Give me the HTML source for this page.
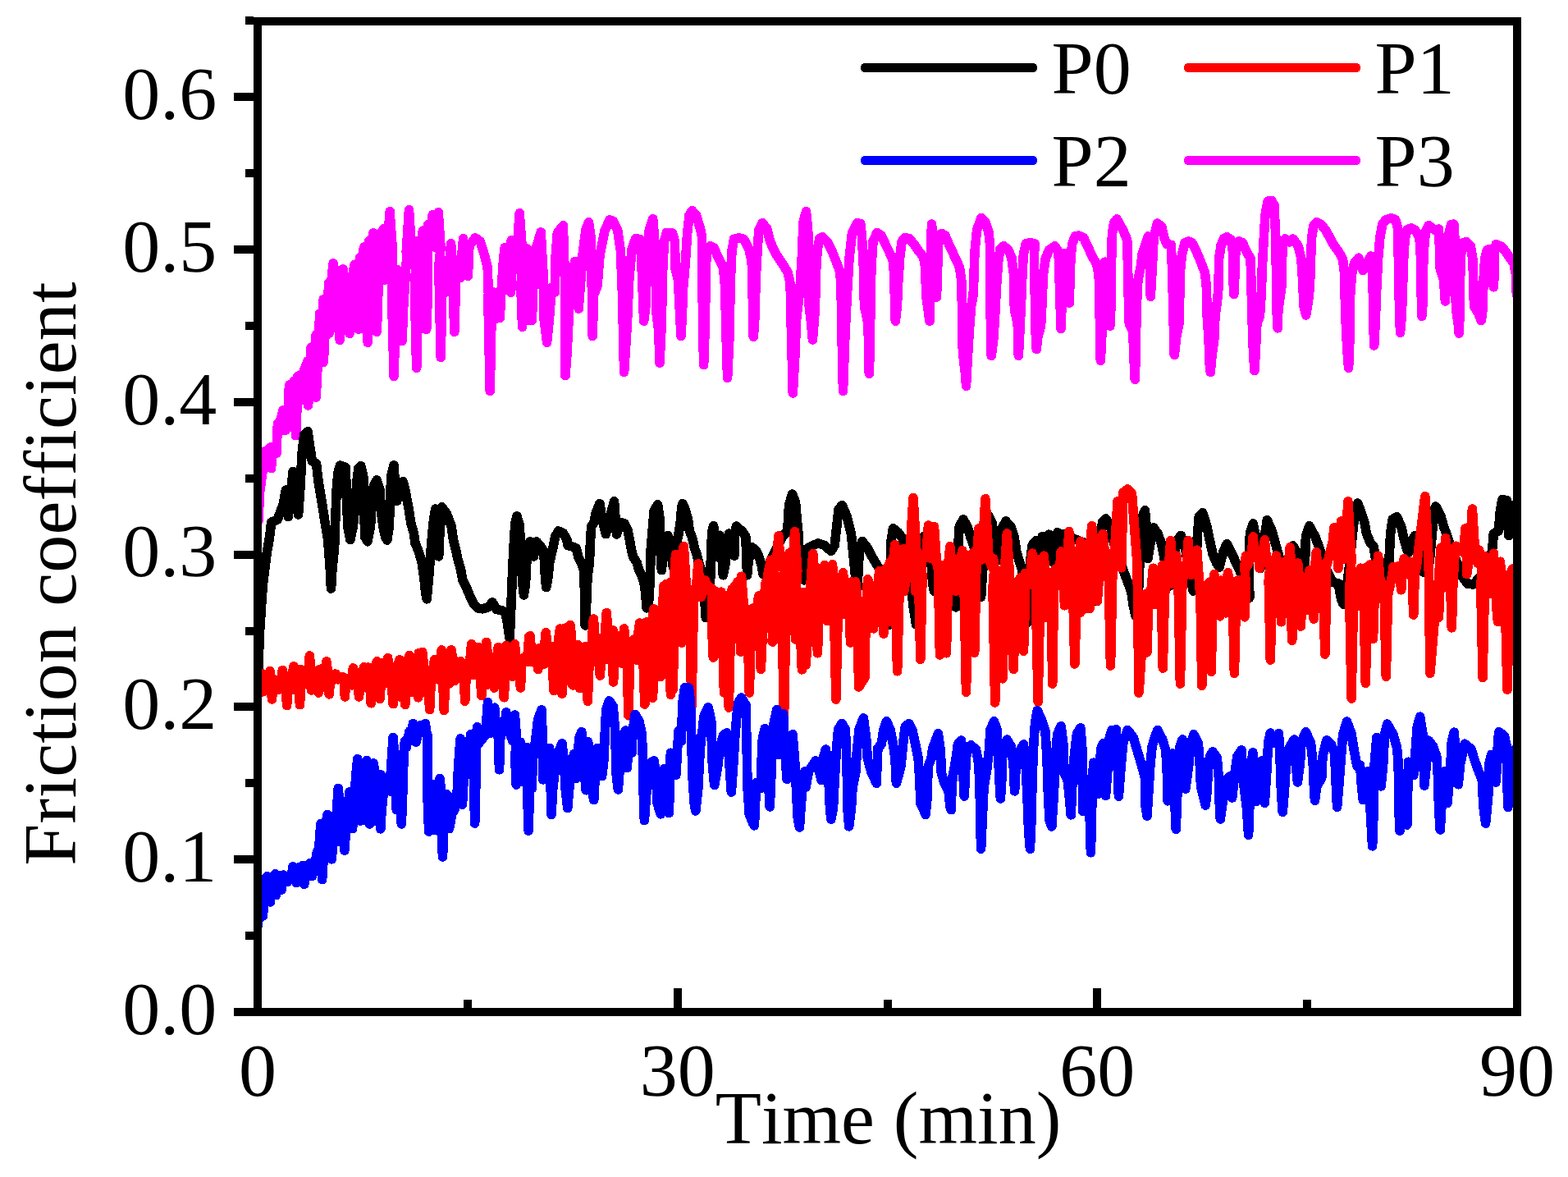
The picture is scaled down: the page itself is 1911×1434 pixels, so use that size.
<!DOCTYPE html>
<html><head><meta charset="utf-8"><title>Friction coefficient</title>
<style>
html,body{margin:0;padding:0;background:#fff;}
body{width:1911px;height:1434px;overflow:hidden;}
svg{display:block;}
text{font-family:"Liberation Serif",serif;font-size:92px;fill:#000;font-variant-ligatures:none;font-kerning:none;font-feature-settings:"liga" 0,"clig" 0;}
</style></head><body>
<svg width="1911" height="1434" viewBox="0 0 1911 1434">
<rect width="1911" height="1434" fill="#fff"/>
<defs><clipPath id="c"><rect x="319" y="31" width="1525" height="1197"/></clipPath></defs>
<g clip-path="url(#c)" shape-rendering="crispEdges">
<polyline points="315,635 316.5,600 323.5,549.8 324.5,549.8 325.5,549.8 330,544.8 329.3,552.2 330.5,570.6 331.7,552.2 337,552.2 338.4,516.5 339.5,514.8 340.6,516.5 345,500 346,524.2 347,524.2 348,524.2 352,513.2 351.6,478.5 353,469 354.5,478.5 358.4,464 359.1,498.4 360.5,530.7 361.9,498.4 362.6,459 363.6,458 364.7,459 367,487.2 368,486.4 370,453 375,439.9 374.3,484 375.5,494 376.6,484 379,423.9 380,422.9 381.1,423.9 380.4,482.4 385.1,407.9 383.8,463.2 385.1,484 386.3,463.2 389.7,381.9 390.1,442.4 392.9,426.8 394.1,441.4 395.2,426.8 394.1,364.9 395.1,364.9 396.1,364.9 399.1,407.3 400.5,344.9 400,403 401.1,406.3 402.1,403 404.3,337.9 406.1,320.9 407.8,337.9 406.1,392.3 412.5,329.9 412.9,396.9 414.1,414.3 415.3,396.9 416.6,338.6 418.1,327.9 419.6,338.6 420.1,400.3 424.1,347.9 425,398.3 426.1,406.3 427.2,398.3 431.7,396.3 430.8,329 432.1,322.3 433.4,329 436,397.3 437.1,401.3 438.1,397.3 438.5,313.9 442.5,398.3 443,303.8 444.1,300.8 445.2,303.8 446.9,399.3 448.1,417.3 449.3,399.3 449.7,293.8 453.7,400.3 453.8,289.8 455.1,283.8 456.4,289.8 459.1,286.8 457.8,378.2 459.1,404.3 460.4,378.2 462.1,284.8 463.1,284.8 464.1,284.8 467.5,278.8 468.1,341.3 472.2,301.2 475.1,257.8 478.1,301.2 478.3,389.1 480.1,458.4 482,389.1 484.5,328.9 486.7,415.3 488.6,375.2 490.1,415.3 491.6,375.2 496.1,307.6 495.2,307.2 498.5,255.8 501.8,307.2 507.1,293.8 505.7,364.8 507.7,448.4 509.7,364.8 514.5,400.3 515.1,281.5 516.1,280.8 517.2,281.5 518.3,363.6 519.7,401.3 521.2,363.6 521.7,273.8 525.1,286 527.2,261.8 529.2,286 529.2,297.3 531.2,301.8 534.2,258.8 537.1,301.8 534.8,324.6 537.2,435.3 539.5,324.6 542.2,319.9 546.2,355.3 547.2,326.2 549.6,296.8 551.9,326.2 552.1,346.7 553.8,404.3 555.5,346.7 556.2,331.9 561.2,338.3 562.5,314.6 564.6,290.8 566.6,314.6 568.9,316.9 570.2,336.3 571.4,316.9 571.8,299.8 579.2,289.8 585.2,294 590.2,310.1 594.2,326.1 595.8,370.1 594.8,360.6 597.2,476.4 599.6,360.6 601.2,355.9 604.2,388.3 607.9,362.4 609.2,387.3 610.5,362.4 613.6,315.8 615.2,301.8 616.8,315.8 615.2,331.3 621.3,327.7 622.6,356.3 624,327.7 623.2,292.8 629.8,324.3 630.5,298.7 633.2,259.8 636,298.7 635.1,355.5 636.6,398.3 638.1,355.5 640.2,302.8 641.1,304.8 642.2,302.8 643.3,304.8 644.2,390.3 646.9,361.2 648.2,390.3 649.6,361.2 650.2,312.9 659.2,282.8 661.8,330.1 663.2,390.1 666.6,417.3 669.3,390.1 672.3,350.1 676.3,356.1 677.3,310.1 679.3,284 686.3,274.8 688.4,338.7 689.3,457.4" fill="none" stroke="#f0f" stroke-width="11.6" stroke-linejoin="round" stroke-linecap="round"/>
<polyline points="689,457.7 691.1,429.4 695.5,341.5 700.8,318.3 705.2,376.1 710.5,306.3 714,280 717.5,270.8 720.1,288.7 721.5,359.1 722.2,409.5 723.6,359.1 728,348.5 731,311.6 736.8,281.7 743,267.8 747.4,269.4 752.7,280.8 756.5,306.3 758.5,359.1 760.6,453.5 764.4,394.2 766.7,341.5 770.2,302.8 774.6,291 779.9,291.4 781.7,315.1 784.7,391.1 786.9,373.1 788.7,320.4 791.3,280 795.7,266.8 798.9,306.3 799.8,380.2 802.8,403 804,442.1 806.3,394.2 807.5,332.7 809.5,294 812.4,283.6 819.5,284 822.5,294 823,327.4 826.5,341.5 828.3,376.7 830,409.5 831.3,385.5 832.7,350.3 835.3,320.4 837.6,285.2 840,262.4 843.6,256.7 848.5,262.4 853.4,278.2 855.5,288.7 856.4,376.7 857.6,444.7 859.4,394.2 860.3,323.9 862.2,302.8 865.7,299.8 869.9,301.9 875.7,314.2 881.5,326.5 883.6,348.5 884.9,403 886.6,460.5 888.9,411.8 890.3,341.5 891.9,306.3 894.5,291.4 900.4,289.8 906.5,291.4 912.7,302.8 916.2,318.6 917.4,367.9 918.3,410.4 920,385.5 921.1,341.5 923.2,302.8 925,280 929,271.7 934.6,278.2 938.5,294 944.8,308.1 953.1,320.4 960.1,331.8 963.1,345 964.2,394.2 966.3,479 968.6,438.2 970.7,389 975.1,350.3 977.7,306.3 978.9,271.2 982.5,257.6 984.7,280 985.6,367.9 988.3,390.7 990.4,413.9 993.4,376.7 994.4,332.7 996.2,304.6 998.8,290.5 1002.3,288.7 1008.5,294.9 1014.1,306.3 1019.4,319.5 1024,331.8 1025.2,359.1 1026.1,411.8 1027.5,476.4 1029.8,411.8 1032.4,359.1 1035,315.1 1038.5,283.5 1044.7,271.7 1048.7,272.6 1050.5,288.7 1052.3,323.9 1053.5,373.1 1057.9,394.2 1059.1,438.2 1059.3,455.3 1060.5,411.8 1061.1,350.3 1062.3,320.4 1064,294 1068.8,283.6 1074.1,287 1079,297.5 1084.3,308.1 1088.7,318.6 1089.9,341.5 1090.8,376.7 1091.3,391.1 1093.4,373.1 1094.8,341.5 1096.9,311.6 1099.2,294 1102.7,289.6 1108,290.5 1113.3,296.7 1119.4,305.5 1125.6,313.4 1127.9,327.4 1128.6,359.1 1131.7,381.9 1133,391.1 1134,341.5 1134.9,288.7 1135.6,273.1 1137.9,306.3 1139.1,350.3 1141.4,362.1 1142.3,341.5 1143.2,306.3 1144.4,287 1147.6,284.5 1152,287 1157.2,299.3 1163,311.6 1169.5,325.7 1171.8,341.5 1172.5,376.7 1173.4,429.4 1176.6,455.8 1177.5,470.2 1179.2,438.2 1181.3,403 1183.6,373.1 1186.2,359.1 1187.1,332.7 1188,306.3 1190.6,280 1195.9,265.5 1201.2,271.2 1204.7,281.7 1206.5,297.5 1206.8,359.1 1207.7,411.8 1208.2,433.3 1210.9,411.8 1212.6,385.5 1214.4,350.3 1216.5,320.4 1218.8,303.7 1223.2,299.8 1228.4,303.7 1232.8,313.4 1235.5,334.5 1236.4,376.7 1240.2,394.2 1241.3,433.3 1242.9,403 1244.6,367.9 1246,332.7 1247.4,309.8 1250.4,296.7 1254.8,295.8 1261,296.7 1260.4,315.1 1261.5,367.9 1262.4,411.8 1263.3,425.4 1264.5,411.8 1268.5,397.8 1269.8,373.1 1271.5,334.5 1274.2,315.1 1278.5,304.6 1285.6,299.8 1290,306.3 1291.2,341.5 1292.3,376.7 1293.1,400.4 1294.4,359.1 1296.1,323.9 1297.4,308.6 1300.5,341.5 1303.2,369.1 1304,341.5 1304.9,315.1 1306.7,297.5 1310.2,287.9 1314.6,287 1320.7,289.6 1326,301.1 1331.3,312.5 1336.6,322.2 1339.2,334.5 1340.1,376.7 1341,420.6 1341.3,439.4 1342.7,411.8 1343.6,367.9 1345.4,327.4 1346.6,319.2 1350.6,341.5 1351.9,376.7 1352.9,397.2 1354.2,367.9 1354.7,315.1 1355.4,285.2 1357.7,271.2 1361.2,266.9 1369.3,281.7 1373.7,292.3 1374.5,323.9 1375.4,366.1 1376.3,394.2 1380.7,403 1382.5,447 1383.3,462.3 1384.2,429.4 1385.1,376.7 1386.9,341.5 1390.4,323.9 1392.1,309.8 1399.2,288 1401.3,323.9 1402.3,361.2 1404.4,323.9 1406.2,288.7 1410.6,272 1415.9,276.4 1418.5,288.7 1422,297.5 1427.3,298.4 1428.7,330.9 1429.9,381.9 1431.3,432.4 1433.5,411.8 1437,394.2 1437.8,359.1 1438.7,327.4 1440.5,309.8 1444,295.8 1448.4,294 1452.8,295.8 1458.1,306.3 1463.3,318.6 1468.6,332.7 1470.4,350.3 1471.3,387.2 1473,411.8 1474.4,447 1475.3,453.5 1476.5,438.2 1480,411.8 1480.9,385.5 1483.6,366.1 1485,350.3 1485.7,315.1 1488,299.3 1491.5,290.5 1495.5,288.9 1500.3,292.3 1502.5,306.3 1502.9,338 1503.8,358.6 1504.7,341.5 1505.2,315.1 1507.3,295.8 1509.9,294 1514.3,295.8 1518.7,305.5 1524,315.1 1524.9,341.5 1525.8,381.9 1527.5,429.4 1528.9,451.7 1530.2,429.4 1531.9,394.2 1535.4,385.5 1537.2,359.1 1538.4,323.9 1540.4,288.7 1541.9,262.4 1545.1,245.3 1549.5,244.4 1553,250.1 1553.9,271.2 1554.8,288.7 1555.6,341.5 1556.5,394.2 1557.1,399.9 1557.9,376.7 1561.8,350.3 1562.3,320.4 1563.6,297.5 1566.2,291 1571.5,294.9 1575.9,291 1582,299.3 1585.9,315.1 1587.6,341.5 1589.1,373.1 1591.7,384 1594.3,367.9 1596.4,350.3 1597.5,315.1 1598.7,288.7 1601,274.7 1604.9,270.8 1610.2,273.8 1615.4,280 1620.7,289.6 1626,299.3 1631.3,306.3 1636.5,316 1638.6,332.7 1639.7,381.9 1641.5,420.6 1643.6,448.2 1645,411.8 1645.7,359.1 1647.4,334.5 1650.6,320.4 1655.9,314.2 1661.1,329.5 1670.8,312.1 1671.7,315.1 1673.1,341.5 1673.8,390.7 1674.7,421 1676.1,394.2 1677.8,350.3 1679.6,315.1 1681.9,288.7 1684.9,272.9 1689.3,267.6 1695.4,265.9 1700.7,267.6 1703.7,278.2 1704.2,306.3 1705.1,359.1 1706.5,405.1 1708.3,385.5 1709.5,350.3 1710.7,315.1 1712.1,292.3 1714.8,280 1720.1,277.8 1724.5,280 1728.8,287 1731.1,297.5 1731.8,341.5 1732.9,385.3 1734.1,367.9 1734.6,323.9 1735.9,297.5 1737.6,281.7 1741.2,274.7 1748.2,280 1753.5,279.1 1754.3,297.5 1755.2,327.4 1759.6,341.5 1761.4,367 1762.8,341.5 1764,306.3 1765.8,285.2 1768.4,273.8 1771.9,273.1 1772.8,288.7 1773.3,341.5 1774.6,376.7 1777.2,394.2 1778.1,406 1779,385.5 1779.5,341.5 1780.7,309.8 1783.4,295.8 1787.2,294.5 1792.1,299.3 1794.8,315.1 1795.7,341.5 1796.5,373.1 1801.8,381.9 1805.3,390.6 1807.1,376.7 1808,341.5 1809.7,315.1 1812.4,304.6 1815,303.7 1818.5,309.8 1819.4,332.7 1820.3,349.8 1821.2,332.7 1821.7,306.3 1823.3,297.7 1829.1,300.2 1834.3,305.5 1839.6,313.4 1844.9,320.4 1847.5,334.5 1848.4,359.1" fill="none" stroke="#f0f" stroke-width="11.6" stroke-linejoin="round" stroke-linecap="round"/>
<polyline points="314.2,830 316.5,770 318.8,735 320.5,711 324.9,675.8 328.5,654.7 330.7,636.3 338.1,633.1 345.2,614.3 348.3,597.2 351.3,629.6 357.1,574.4 363.6,626.9 366.3,587.9 368,552.7 370.7,529.9 375.1,525.7 377.7,544 380.3,561.5 385.6,565.1 388.2,587.9 391.8,609 396.2,637.1 399.7,658.2 402.3,693.4 403.5,717.1 404.9,693.4 407.6,667 408.8,631.9 410.2,596.7 412,575.6 414.6,567 421.1,569.4 421.6,579.1 422.5,614.3 424.3,644.2 426.9,657.7 430.4,640.7 433.1,614.3 434.8,587.9 436.9,570.3 439.8,567.7 442.7,579.1 443.6,623.1 445,654.7 448,659.8 451.5,640.7 453.3,614.3 455.1,593.2 459.1,584.9 463,596.7 464.4,623.1 467.4,644.2 470,654.7 471.8,658.1 474.4,640.7 475.3,609 477,579.1 480,567 481.4,587.9 483.7,610.2 485.8,598.5 491.1,586.7 493.7,596.7 498.1,619.6 500.8,637.1 504.3,649.5 506,661.8 510.4,672.3 514,684.6 516.6,702.2 518.4,719.8 520.1,729.8 522.7,702.2 525.4,667 528,637.1 530.7,620.1 533.3,658.2 534.7,677.9 535.9,649.5 538.6,617.8 544.7,626.6 550,640.7 552.6,658.2 555.3,668.8 557.9,681.1 561.4,693.4 564.1,707.5 569.3,718 572.9,726.8 577.3,735.6 582.5,740.9 587.8,741.8 594.8,740 600.1,733.8 605.4,742.6 610.7,743.5 615.9,746.2 618.6,760.2 621.2,778.5 623.3,728.6 624.7,693.4 626.5,658.2 627.9,637.1 630,628.9 633.5,640.7 634.4,675.8 637,711 638.4,724.9 640.5,711 642.3,675.8 646,660 650.4,677.9 653.9,660 659.2,666.2 662.7,671.4 664.5,703.1 665.7,715.7 668,703.1 669.7,685.5 674.1,666.2 676.8,653.8 680.3,647 686.4,649.5 690.8,657.4 692.1,664.4 697,665.8 702.3,667.9 704.9,678.5 708.4,685.5 711.4,694.3 712.5,720.7 713.2,762 714.6,738.2 716,703.1 718.4,685.5 719.5,659.1 720.7,641.5 724.2,636.3 726,625.7 730.9,613.6 733.9,632.7 738.3,650.7 742.7,632.7 748.5,610.9 750.1,632.7 751.5,651 755.9,636.3 761.2,638 764.7,645.1 767,655.6 769.1,667.9 771.7,678.5 776.1,685.5 778.7,694.3 782.3,701.3 785.8,713.6 787.2,729.5 788.1,740.9 791.1,729.5 792.3,703.1 793.3,667.9 795.5,641.5 797.2,622.2 801.6,614.8 804.2,632.7 805.1,667.9 805.6,689 806.4,694.6 807.8,678.5 808.6,659.1 813.9,652.6 817.4,667.9 820.1,690.2 822.7,667.9 827.1,650.3 829.7,632.7 830.6,618.7 832,613.6 835,620.4 838.5,632.7 840.3,646.8 843.8,655.6 846.4,667.9 849.1,674.9 851.7,685.5 854.4,694.3 857,706.6 858.7,729.5 860.2,752.7 864,738.2 865.8,703.1 866.7,667.9 867.9,646.8 869.6,640.8 871.9,659.1 872.8,677.9 874.6,659.1 877.2,652.3 879.8,676.7 881.3,700.8 884.2,685.5 886,659.1 888.6,650 892.2,659.1 894.8,677.1 895.7,650.3 897.4,641.2 904.5,647.3 908.9,653.8 909.7,676.7 910.6,700.8 912.4,682 916.8,667 922,671.4 925.6,680.2 928.2,689 930,699.4 934.4,692.5 944.9,671.4 953.7,653.8 959.8,646.8 961.6,615.2 965.6,602 969.5,611.6 971.3,632.7 973,650.3 974.8,685.5 976.5,703.1 980.1,706.9 985.5,667 996.9,661.9 1004.9,664.4 1012.8,671.4 1017.2,664.4 1019.8,641.5 1022.1,620.4 1026.3,615.7 1032.1,629.2 1037.4,650.3 1040,676.7 1042.7,703.1 1044.4,723.7 1046.2,694.3 1047.4,667.9 1050.9,659.6 1057.6,667.9 1062.9,678.5 1068.2,687.3 1073.4,696 1078.7,729.5 1082.6,761.8 1084.5,720.7 1085.4,685.5 1086.1,659.1 1088.4,643.8 1094.5,648.6 1099.8,655.6 1103.3,667.9 1106.8,685.5 1110.4,711.9 1113,738.2 1116.5,760.6 1119.1,720.7 1121.8,676.7 1126.2,653.5 1131.5,659.1 1135,685.5 1136.7,711.9 1138.5,720.1 1143.8,703.1 1150.8,698.3 1157.8,713.6 1164.9,739.8 1166.6,703.1 1167.5,667.9 1169.3,641.5 1174,632.9 1178.9,641.5 1183.3,655.6 1187.7,667.9 1191.2,694.3 1195.6,727.2 1198.3,685.5 1200.9,650.3 1204.4,628 1208.8,636.3 1211.5,650.3 1213.2,667.9 1214.4,683.2 1216.7,664.4 1219.4,646.8 1225.9,635 1231.7,641.5 1236.1,653.8 1238.7,671.4 1242.2,683.7 1245.7,694.3 1249.3,720.7 1251.9,758.8 1253.6,720.7 1255.4,685.5 1258,664.4 1262.4,658.8 1266.5,672.7 1270.4,653.5 1274.2,669.1 1278.3,651.2 1281.8,684.1 1288.8,648.7 1292.3,679.7 1296.7,650.3 1307.3,655.6 1316.1,659.6 1321.5,660.9 1328.5,685.5 1334.7,720.7 1337,732.4 1339.1,703.1 1340.9,659.1 1343.5,636.3 1347.5,631.9 1353.2,639.8 1355.8,653.8 1362,678.5 1368.1,692.5 1373.4,706.6 1378.7,720.7 1381.3,738.2 1383.9,750 1387.5,720.7 1389.7,667.9 1391,632.7 1395.4,621.8 1398,650.3 1398.9,680.6 1402.4,659.1 1405.9,642.9 1411.2,650.3 1415.6,662.6 1418.6,678.5 1422.6,703.1 1425.6,714 1430.5,685.5 1434,659.1 1439.3,652.3 1444.6,667.9 1449,694.3 1454.3,720.1 1457.8,685.5 1459.5,650.3 1461.3,629.2 1465.7,624.8 1471,641.5 1474.5,659.1 1478,674.9 1482.4,685.5 1485.9,691.1 1491.2,671.4 1495.2,662.8 1501.7,674.9 1507,687.3 1511.4,696 1518.4,717.1 1522.8,728 1522.3,685.5 1523.4,650.3 1527.2,638 1531.6,659.1 1536,692.4 1540.4,659.1 1544.3,633.6 1550.1,646.8 1554.5,662.6 1558.9,678.5 1563.3,694.3 1565.9,700.8 1569.4,685.5 1575.6,664.9 1581.7,674.9 1584.4,694.3 1588.8,711.3 1590.5,685.5 1591.4,653.8 1595.8,640.8 1602.8,653.8 1608.1,667.9 1612.5,680.2 1616.9,694.3 1623.9,709.2 1631,711 1634.5,729.5 1637.1,736 1640.6,720.7 1645,685.5 1648.5,650.3 1651.2,624 1654.7,613.1 1657.6,620.4 1662.9,636.3 1665.5,650.3 1669.9,660.9 1674.3,666.2 1676.1,678.5 1682.3,683.7 1686.6,694.3 1688.9,705.2 1692.8,685.5 1694.6,650.3 1697.2,632.7 1702.5,629.8 1707.7,641.5 1711.3,657.4 1714.8,669.7 1716.5,673.5 1720.9,659.1 1724.5,652.6 1729.7,667.9 1735,697.3 1742,685.5 1745.5,650.3 1747,624 1749.9,617.1 1756.1,629.2 1759.6,641.5 1764,653.8 1770.2,671.4 1777.2,689 1782.5,703.1 1788.6,711.3 1795.7,711.9 1803.6,703.1 1812.4,689 1818.5,671.4 1820.3,650.3 1826.4,646.8 1828.2,624 1830.8,608.7 1836.1,609.5 1838.7,652.4 1842.3,632.7 1845.8,615.2" fill="none" stroke="#000" stroke-width="11.6" stroke-linejoin="round" stroke-linecap="round"/>
<polyline points="314,833 319.1,832.2 320.2,842.8 321.3,832.2 319.2,828.9 320.5,821 321.9,828.9 323.2,832.2 327.5,828.9 329,817.4 330.5,828.9 330.3,836.1 331.5,851.9 332.6,836.1 335.5,828.9 339.9,840.1 342.9,825.9 344.3,816.6 345.7,825.9 348.3,840.1 349.6,859.5 350.8,840.1 351.3,823.6 357.5,840.1 356.3,823 357.8,811.8 359.3,823 364.1,836.4 365.4,858.6 366.7,836.4 364.6,822.3 365.9,815.7 367.2,822.3 370.7,821.8 372.4,833.1 375.2,824.3 377.3,799 379.5,824.3 378.4,834.5 379.5,841 380.5,834.5 384.7,827.1 387.1,836.3 388.2,844 389.3,836.3 387.9,820.3 389.1,815.7 390.3,820.3 392.6,814.8 394.4,837.5 396.4,817 397.9,806 399.4,817 399.9,833.8 401.1,845.8 402.2,833.8 407.4,821.3 408.5,821 409.5,821.3 412,827.8 416.2,824.9 417.3,824.5 418.3,824.9 419.2,831.4 420.4,848.9 421.6,831.4 422.5,827.1 428.7,834.9 429,823.4 430.4,813.9 431.9,823.4 437.5,820.1 436.3,836.3 437.5,848.9 438.6,836.3 442.5,816.3 443.6,812.7 444.8,816.3 444.5,837.5 448.9,813.1 450.8,836 452.1,856.8 453.3,836 458.3,809.7 459.5,805.7 460.6,809.7 461.8,833.9 463,851.6 464.2,833.9 465.6,807.8 471.8,832.2 471.2,811.3 472.6,801.6 474.1,811.3 477.9,840.5 479.1,857.7 480.3,840.5 479.7,814.8 485.4,809.8 486.7,803.9 488,809.8 486.7,848.9 492,806 492.6,846.4 493.7,858.6 494.9,846.4 497.8,803.7 499,798.6 500.2,803.7 501.6,843.7 505.2,801.6 508.5,843.7 509.6,849.8 510.6,843.7 509,806.1 510.4,795.5 511.9,806.1 513.1,809.8 514.8,794.6 516.5,809.8 514.8,843.7 522.7,816.6 522.3,836.1 523.6,864.7 525,836.1 528.5,810.4 529.8,803.4 531.1,810.4 533.3,827.8 536.7,803 538.2,792 539.7,803 539.8,830.8 541.2,865.6 542.6,830.8 543.8,798.1 547.4,833.1 548.5,802.1 550,792 551.5,802.1 552.5,829 553.5,829.6 554.5,829 556.2,806 557.9,826.1 560.3,809.5 561.4,805.7 562.6,809.5 566.7,813.1 565.3,824.4 566.7,854.2 568.1,824.4 572.6,806.6 574.6,784.9 576.6,806.6 576.4,822.6 581,800.1 582.5,788.4 584.1,800.1 586,797.2 585.7,829.4 586.9,847.7 588.1,829.4 591,798.8 592.7,782.3 594.5,798.8 594,834 601,800.7 601.2,833.5 602.2,838 603.3,833.5 605.6,801.1 607.1,788.8 608.7,801.1 608.9,833.1 612.9,830.2 614.2,849.8 615.4,830.2 615.1,801.6 616.8,786.3 618.5,801.6 624.7,824.3 625.6,802.1 627.4,784.9 629.1,802.1 633.1,814.6 634.4,838 635.7,814.6 635.3,802.5 636,803.1 637,802.2 638.1,803.1 640.5,804.3 642.3,806.7 642.8,800.4 644.9,775.3 647.1,800.4 643.9,799.4 646,774.8 648.1,799.4 646,805.8 654.6,807.9 655.7,815.5 656.8,807.9 656.9,789.8 662.7,809.4 663.5,788.9 665.3,770.8 667.2,788.9 674.1,788 673.7,818 675,841.5 676.3,818 681.2,774.8 682.6,766 684,774.8 683.8,825.1 685,845.1 686.3,825.1 688.7,765.1 693.3,773.6 694.9,761.6 696.4,773.6 697,833.5 697.7,831.7 698.7,834.9 699.8,831.7 703,786.2 704,785.4 705.1,786.2 705.5,823.7 706.7,838.7 707.8,823.7 707.9,791.5 712.5,791.1 713.7,787.6 714.8,791.1 714.8,813.9 716.3,854.2 717.8,813.9 720.7,790.4 723.4,754.1 726,790.4 723.4,806.7 731.3,789.8 730.1,805.1 731.3,823.1 732.5,805.1 736.5,783.9 739.2,746.7 741.9,783.9 740.1,803.2 745.6,778 747.1,767.8 748.6,778 746.2,798.2 747.6,831 749,798.2 750.6,775.3 752.1,777.4 753.3,774.8 754.4,777.4 755.9,792.7 757.4,794.2 758.5,808.5 759.7,794.2 758.9,783.1 760.6,766 762.4,783.1 764,798.3 765.9,871.8 767.8,798.3 768.2,788.9 768.1,788.9 769.1,788.9 770.1,788.9 771.5,781.6 772.6,779.2 773.7,781.6 776.1,804.1 778.1,770 779.6,759 781.1,770 785.8,759.9 784.2,811.2 785.8,858.1 787.3,811.2 787.4,758.4 788.4,757.8 789.4,758.4 794.1,818.2 795.5,850.3 796.8,818.2 795.3,753.6 796.9,741.9 798.4,753.6 799,820.8 801.5,750.4 802.5,750.2 803.5,750.4 802.8,750.2 804.1,821.3 805.1,824.7 806.2,821.3 808.6,714.2 810.4,821.7 810.2,714.6 811.3,711.9 812.4,714.6 815.3,715.4 816.5,709.8 817.8,715.4 815.6,778.2 817.4,846.3 819.2,778.2 818.1,761.9 820.1,840.1 822,761.9 820.7,716.5 823.6,675.5 826.4,716.5 826.7,720.6 829.2,721.6 831,783 832.7,721.6 829.9,717.9 833.3,665.8 836.6,717.9 842.9,719.4 840.3,724.7 842.9,861.2 845.6,724.7 848.4,718.6 850.8,686.9 853.3,718.6 854.4,727.6 858.2,717.6 859.6,707.1 861.1,717.6 863.8,717.1 864.9,715 866,717.1 867.5,716.8 867.9,770.1 869.3,801.1 870.7,770.1 870.9,721.2 871.9,720.3 873,721.2 876.3,790 877.7,728.2 879,721.2 880.3,728.2 880.7,779.1 882.5,844 884.3,779.1 886,735.3 886.2,768.8 888.3,862.1 890.4,768.8 890.9,722.6 892.2,717.7 893.4,722.6 895.5,714.2 896.5,714.2 897.5,714.2 898.7,750.5 898.8,708.9 901.3,757.1 902.7,794.1 904.1,757.1 901.2,731.8 903.6,702.2 905.9,731.8 909.7,761.6 911.4,774.4 913.3,844 915.1,774.4 915.6,744.7 916.8,741.4 917.9,744.7 918.5,740.5 921.2,787.4 923.2,736.1 924.7,726.1 926.1,736.1 926,785.6 927.3,815.2 928.7,785.6 930.8,731.7 933.3,709.5 934.4,708.9 935.4,709.5 936.1,698.3 937.9,690.4 939.3,682.2 940.6,690.4 941.4,781.6 940.7,780.5 941.7,782.1 942.8,780.5 942.8,681.6 946.2,687.9 948.8,653 951.3,687.9 955.5,694.8 952.8,737.3 955.5,875.3 958.1,737.3 957.7,683.7 959,678.6 960.2,683.7 962.1,673.7 963.5,711.8 965.5,695.5 968.6,647.7 971.8,695.5 968.1,743.7 969.5,778.9 970.9,743.7 976.5,722.1 976.1,785.9 977.4,815.9 978.8,785.9 978.2,721.5 979.2,721.5 980.2,721.5 982,810.2 986.4,752.2 988.5,702.6 990.8,674.6 993.1,702.6 994.9,754.2 996.4,795.8 997.9,754.2 997.8,693.1 1003.4,698.3 1004.9,688.7 1006.3,698.3 1008.4,756.6 1012.7,705.4 1014.5,687.8 1016.3,705.4 1016.7,752.7 1018.9,852.1 1021.1,752.7 1021.6,710.6 1025.8,709.7 1027.4,697.8 1028.9,709.7 1029.5,748.7 1032.1,708.9 1034.9,733.3 1036.5,783 1038.1,733.3 1036.9,717.5 1038.3,708.9 1039.7,717.5 1041.1,721.8 1042.7,708.9 1044.2,721.8 1046.7,837 1054.1,825.2 1055.1,747.6 1057.6,705.9 1064.6,724.5 1063.1,724.5 1064.6,765.9 1066.1,724.5 1069.9,752.2 1070,710.6 1071.7,695.7 1073.3,710.6 1075.7,754.6 1076.9,772.1 1078.2,754.6 1078.5,694.8 1079.6,693.1 1080.7,694.8 1084.9,684.3 1085.7,757.5 1089,678.8 1090.7,663.7 1092.3,678.8 1091.7,739 1093.6,817.8 1095.6,739 1097,673.7 1098,673.7 1099,673.7 1101.6,668.4 1101.6,720.6 1109.5,679.8 1109,673.2 1113,606.5 1117,673.2 1115.6,720.6 1119.6,703.5 1121.8,803.2 1124,703.5 1122.7,677.2 1128.7,679 1131.5,640 1134.2,679 1131.5,679 1135.7,680.7 1138.5,641.7 1141.2,680.7 1138.5,680.7 1143.2,688.3 1145.5,797.9 1147.8,688.3 1148.2,689.5 1151.3,701.3 1153.4,795.8 1155.6,701.3 1156,685 1157.8,665.8 1159.7,685 1164.9,681.6 1164.9,720.2 1171.4,678.7 1172.8,670.7 1174.1,678.7 1174.8,700.6 1177.5,843.3 1180.2,700.6 1181.4,676.3 1182.4,676.3 1183.4,676.3 1186,673.7 1185.4,684.8 1187.7,795.3 1190,684.8 1190.5,677.6 1193,643.8 1195.5,677.6 1193,677.6 1200,680.1 1196.6,681.8 1200.9,607.8 1205.2,681.8 1209.1,691.1 1210.6,680.7 1212,691.1 1210,716.3 1212.7,856 1215.4,716.3 1215.8,694.8 1220,745.5 1222,826.9 1224,745.5 1226.4,759.3 1223.8,705.8 1227.3,650 1230.8,705.8 1233.6,764.1 1235.2,815.2 1236.8,764.1 1236.9,715 1242.2,768 1242.5,706 1243.6,704 1244.7,706 1245.9,746.9 1247.5,793.2 1249,746.9 1249.3,698.3 1256.3,711.8 1256.4,689 1258,674.2 1259.7,689 1265.1,681.6 1262.6,732 1265.1,855.1 1267.6,732 1270.4,693.7 1272.1,677.2 1273.9,693.7 1273.9,752.2 1280.9,704.8 1282.7,833.1 1284.7,703.2 1286.2,693.1 1287.6,703.2 1291,699.3 1293.2,672 1295.4,699.3 1296.4,720.8 1297.6,737.8 1298.8,720.8 1299.9,691.8 1302.9,647.7 1305.9,691.8 1303.8,731.1 1308.1,739 1309.9,809 1311.8,739 1312.5,684.3 1316.1,746.9 1315.1,679.3 1316.9,659.6 1318.8,679.3 1316.2,678.1 1318,661.4 1319.8,678.1 1320.5,741.7 1321.5,741.7 1322.5,741.7 1326.6,738.8 1327.7,741.7 1328.7,738.8 1328.6,663.7 1330.7,640.7 1332.7,663.7 1337.3,656.1 1337.3,732 1342.2,667.8 1344,650.5 1345.8,667.8 1351.4,680.7 1351.2,702.6 1353.5,811.1 1355.8,702.6 1357.3,691.8 1362,610.9 1366.6,691.8 1369,599.9 1374.3,596 1379.5,601.6 1386,686.5 1388,844 1396.1,724 1398,794.9 1399.9,724 1403.3,715.7 1405.4,692.2 1407.4,715.7 1407.7,736.4 1412.9,701.8 1414.9,701.3 1416.5,688.7 1418,701.3 1415.3,723.7 1417.3,814.1 1419.4,723.7 1423.8,699.9 1426.7,658.8 1429.5,699.9 1427,710.9 1432.1,698.8 1434,677.2 1436,698.8 1437.6,698.3 1435.9,703.4 1438.4,833.1 1441,703.4 1445.2,700.2 1448.1,658.8 1451,700.2 1452.5,699.8 1458.7,670.2 1463,728 1464.8,835.2 1466.1,756.3 1469.2,713.8 1473.9,709.6 1476.2,818.2 1478.5,709.6 1478.3,710.5 1479.8,699.7 1481.2,710.5 1485.6,731.1 1486.8,750.8 1488,731.1 1487.7,707.1 1493.8,746.9 1495,708 1496.5,697.8 1497.9,708 1504.4,708.9 1502.3,733 1504.4,820.3 1506.4,733 1508.6,707.1 1509.6,707.1 1510.6,707.1 1515.6,716.3 1517,751.9 1518.5,716.3 1516.9,690.1 1518.4,677.2 1520,690.1 1525.1,678.4 1527.2,654 1529.3,678.4 1533.4,670.2 1535.1,692.4 1539.4,678.6 1541.3,657.9 1543.2,678.6 1548.3,686 1546.2,707 1548.3,804.1 1550.5,707 1554,686 1555.4,676.9 1556.8,686 1560.1,721.6 1561.5,757.8 1563,721.6 1563.1,686 1564.2,684.3 1565.2,686 1564.2,686 1568.5,729.4 1569.8,695.1 1572.1,667 1574.3,695.1 1573.1,733 1574.7,780.4 1576.3,733 1579.8,706.1 1581.7,686 1583.6,706.1 1584,739.3 1585.3,763.1 1586.5,739.3 1588.8,714.2 1592.3,743.4 1594.3,706.8 1595.8,694.8 1597.3,706.8 1599.9,741.5 1601.1,754 1602.2,741.5 1602.1,698.1 1604.2,672.8 1606.4,698.1 1608.1,739.9 1610.7,691.3 1612.9,726 1614.8,797.1 1616.6,726 1615.9,686 1616.9,686 1617.9,686 1624.3,659.4 1626,642.9 1627.8,659.4 1631,649.1 1631,692.4 1632.4,658.5 1634.5,635 1636.5,658.5 1638.8,681 1642.9,610.9 1647.1,681 1644.6,720.2 1647.1,851 1649.7,720.2 1649.4,698.3 1651.5,696.6 1651.9,696.6 1652.9,696.6 1653.9,696.6 1657.6,738.2 1657.4,693.8 1658.5,692.2 1659.6,693.8 1662.2,735.4 1664.3,832.2 1666.5,735.4 1664.7,691.3 1668.5,696.8 1669.9,687.8 1671.4,696.8 1671.9,731.6 1673.5,778.6 1675,731.6 1678.7,729.4 1677.3,707 1679.6,677.2 1682,707 1688.9,716.8 1687.1,725.5 1689.3,824.3 1691.5,725.5 1696.6,701.4 1698.1,690.4 1699.6,701.4 1705.1,689.5 1707.7,718.8 1709.8,690 1711.3,680.7 1712.7,690 1717.9,690.7 1719.2,684.3 1720.5,690.7 1721.1,698.9 1722.7,749.1 1724.3,698.9 1726.2,691.3 1736.8,604.8 1741.1,680.2 1742.9,820.3 1752,710.9 1753.5,752.2 1755,710.9 1753.4,704.8 1756.1,667.6 1758.8,704.8 1758.7,716.2 1759.3,688.2 1761.7,655.8 1764.2,688.2 1768.4,668.4 1767.6,710.1 1769.3,764.9 1770.9,710.1 1773.4,669.3 1774.6,665.3 1775.7,669.3 1781.6,670.2 1783.7,673.5 1786,643.8 1788.3,673.5 1787.7,699.5 1790.7,679.8 1794.4,620.1 1798.1,679.8 1801,686 1802.7,670.2 1804.4,686 1806.2,688.7 1804.8,715.8 1807.1,825.7 1809.4,715.8 1809,690.6 1810.6,678.1 1812.2,690.6 1815.9,723.2 1818.3,695 1820.3,674.2 1822.2,695 1824.4,746.8 1825.5,757.5 1826.7,746.8 1826.5,698.5 1828.2,684.3 1829.8,698.5 1829.9,757.5 1831.7,700.1 1837,701 1835,757.5 1837,840.1 1839,757.5 1841.8,701 1843.1,693.1 1844.5,701" fill="none" stroke="#f00" stroke-width="11.6" stroke-linejoin="round" stroke-linecap="round"/>
<polyline points="314,1128 319.2,1090.5 320.5,1116 321.9,1090.5 324.8,1068.7 325.8,1067.8 326.9,1068.7 328.2,1090.5 329.3,1098.9 330.4,1090.5 330.7,1068.7 334.4,1067.7 335.5,1064.8 336.6,1067.7 336.4,1090.5 339.9,1066.9 341.5,1083.5 342.5,1084.3 343.5,1083.5 344.1,1067.7 345.2,1066 346.2,1067.7 350.4,1074.6 351.3,1068.7 355.8,1062.9 357.1,1055.8 358.4,1062.9 359.9,1072.2 361,1075.5 362,1072.2 362.7,1057.2 367.8,1055.9 368.9,1054.6 370,1055.9 369.6,1069.9 370.7,1077.3 371.7,1069.9 376.6,1054.1 377.7,1051.6 378.8,1054.1 380.3,1067.6 383.8,1052.8 386.4,1037.9 387.4,1037.9 388.4,1037.9 390.9,1003.6 391.4,1050.4 392.6,1071.5 393.9,1050.4 397.9,1043 397.3,1004.5 398.8,992.7 400.3,1004.5 402.9,1035.3 404.1,1046.9 405.2,1035.3 405.8,1005.4 412,1025.4 409.7,997.6 412.3,960.5 415,997.6 419.9,988.7 418.7,1018.3 419.9,1036 421.1,1018.3 421.5,987.8 422.5,987.8 423.5,987.8 426,964.9 429.6,1009.6 433.9,943.4 435.7,924.8 437.6,943.4 438.2,999.9 439.2,999.9 440.2,999.9 441.9,929.8 445.8,933.3 447.1,926.6 448.4,933.3 449.6,1002.3 450.7,1004 451.7,1002.3 453.7,938.7 455.1,929.8 456.5,938.7 457.7,999.9 462,944 463,943.8 464,944 462.6,987.3 463.8,1009.9 465.1,987.3 469.1,948.2 475.3,963.9 476.2,941.7 479.1,898.6 482.1,941.7 483.2,986.7 486.7,936.8 487.9,965.3 489.3,1004 490.8,965.3 492.4,910.7 493.7,902.5 495.1,910.7 499,891.1 502.1,888.7 503.4,881.6 504.7,888.7 506.9,904.1 512.2,884 516.9,892.7 518.4,881.6 519.9,892.7 521,896.3 521.3,978.3 522.7,1013.1 524.2,978.3 526.3,955.3 529.8,1011.3 534.3,962.4 535.9,948.7 537.5,962.4 538,1010.4 539.5,1043.9 540.9,1010.4 542.8,968.2 543.8,967.6 544.9,968.2 546.5,970.2 547.4,1009.6 552.5,983.9 553.5,987.6 554.6,983.9 557,969.1 558.6,933.7 561.1,899.9 563.6,933.7 562.3,956.9 563.5,980.2 564.8,956.9 567.6,917.4 572,941 571.9,912.4 573.7,894.6 575.5,912.4 576.7,924.6 578.7,1003.1 580.6,924.6 579.7,905.8 581.6,885.8 583.5,905.8 591.3,895.7 591.8,893.7 594.5,855.7 597.2,893.7 600.6,888.4 602.7,862.2 604.9,888.4 606.9,886 608.5,937.8 610.2,886 608.9,883.3 615,887 616.8,867.9 618.7,887 624.9,902.8 627.4,871 629.8,902.8 627.7,920.4 629.1,956 630.5,920.4 633.1,910.2 634.4,904.4 635.7,910.2 637,952.4 637.9,913.9 641.1,913.9 642.3,910.4 643.5,913.9 642.3,952.4 644.1,1012.2 645.8,952.4 648.1,960.7 649.5,925.5 653,899.1 655.7,876.3 660.1,864.8 661.5,907.9 661.8,949.9 664.5,934.3 669.7,911.4 671,951.9 672,992.7 673.8,960.7 676.8,934.3 681.2,914.9 685,905.8 687.3,925.5 689.1,960.7 691.7,984.7 693.8,960.7 696.1,934.3 699.6,918.5 701.4,948.7 704,925.5 705.8,899.1 708.8,891.7 710.7,907.9 712.5,943.1 714.2,962.8 716,925.5 716.7,904 719.8,925.5 721.6,960.7 723.7,974.7 725.5,943.1 727.8,911.4 733.6,945.7 736,925.5 737.4,890.3 738.8,864 742.4,853.9 747.1,860.4 749.7,890.3 751.1,943.1 753.3,961.9 755.4,934.3 758.5,911.4 760.3,893.8 762.4,890 764.2,935.5 767,899.1 770,917.1 771.2,890.3 774,870.6 778.7,878 782.3,893.8 783.5,925.5 784.5,978.2 785.4,999.7 787.5,969.5 790.2,943.1 793.3,929 797.2,926.9 799.8,951.9 801.1,978.2 805.1,991.8 806.9,960.7 809.5,936.6 812.2,960.7 815.1,990.6 816.5,960.7 816.9,925.5 817.4,917.2 820.1,925.5 823.9,944 825.7,911.4 827.1,890.3 830.3,903 832,855.2 834.5,837.8 839.4,838.1 841.5,855.2 842.6,890.3 843.8,943.1 846.1,978.2 847.8,987.9 850.8,960.7 852.6,925.5 854.4,899.1 856.1,890.3 857.9,872.7 863.1,861.8 866.7,878 867.9,925.5 870.7,956.6 874.6,934.3 877.2,911.4 881.6,895.6 886,893 888.6,925.5 891.3,965.1 893.6,934.3 895.7,899.1 897.8,872.7 900.1,855.2 903.6,850.1 908.9,858.7 910.1,907.9 911.1,960.7 913.3,992.3 917.6,1002.9 919.4,1005.8 920.6,978.2 922,953.6 927,960.7 928.2,925.5 929.4,899.1 932.2,887.7 935.2,925.5 937,960.7 938.2,983 940,943.1 941.4,907.9 943.1,881.5 946.7,864.8 948.1,919.7 954.6,869.8 956.3,907.9 959,949.2 961.6,925.5 966,894.7 968.6,925.5 970.4,960.7 972.2,995.8 974.4,1008 976.5,978.2 978.3,957.1 980.9,940.1 982,959.1 985.5,939.8 994,926.9 997.8,938 1001.3,950.7 1003.1,924 1006.3,913.1 1009.3,932.7 1011,976.7 1012.8,998.2 1015.4,985.5 1017.2,950.3 1019.3,915.2 1021.6,888.8 1026,881.6 1030.4,888.8 1032.1,932.7 1033,985.5 1034.7,1006.9 1037.4,985.5 1039.1,959.1 1042.7,941.5 1044.4,915.2 1047.1,888.8 1052.3,874.9 1055.5,897.6 1057.3,924 1062,940.7 1068.2,954.2 1069,932.7 1069.9,911.6 1074.3,906.4 1076.9,888.8 1080.5,878.9 1084.9,888.8 1088.4,906.4 1091,924 1091.9,946.8 1092.4,954.2 1094.5,946.8 1098,932.7 1099.8,915.2 1101.6,897.6 1103.3,885.3 1107.7,881.6 1112.1,890.5 1115.6,906.4 1119.1,924 1120.9,950.3 1121.8,978.5 1125.3,985.5 1127.9,992.4 1129.7,976.7 1130.6,950.3 1131.5,932.7 1135,924 1136.7,911.6 1143.4,893.7 1146.4,915.2 1147.3,941.5 1150.8,953.8 1156.1,964.4 1157.8,982 1159.2,986.7 1159.9,964.4 1161,946.8 1164.9,925.7 1167.5,906.4 1171.5,902 1173.6,924 1174.5,959.1 1175.1,970 1176.3,950.3 1177.2,924 1179.8,911.6 1183.3,907.8 1189.5,913.4 1192.1,925.7 1193.9,950.3 1194.7,994.3 1195.6,1034.2 1197.4,994.3 1199.1,959.1 1202.7,938 1205.3,915.2 1207.1,888.8 1211.5,878.9 1215,888.8 1216.7,924 1218.5,959.1 1219.4,973 1220.8,950.3 1222,915.2 1227.3,901.1 1232.5,909.9 1235.2,932.7 1236.6,963.9 1237.8,941.5 1240.5,918.7 1247.5,906.9 1250.1,932.7 1251.9,967.9 1253.6,1011.9 1255.4,1034.2 1257.2,994.3 1258,950.3 1259.8,906.4 1261.6,880 1264.2,865.8 1268.6,874.7 1273.9,890.5 1276,924 1277.4,967.9 1279.1,999.6 1281.8,1006.9 1284.4,967.9 1286.2,924 1288.8,894.1 1293.2,884.7 1295.8,906.4 1296.7,941.5 1301.1,950.3 1303.8,976.7 1305.2,992.9 1306.4,967.9 1307.3,941.5 1309.9,915.2 1312.5,894.1 1316.9,886.7 1318.9,912.7 1319.4,965.5 1319.8,988.7 1322.4,965.5 1325,949.7 1327.7,983.1 1328.9,1018.2 1329.4,1038.8 1330.3,1000.7 1331.2,965.5 1332.1,939.1 1332.9,929.1 1335.6,947.9 1337.7,967.6 1340,939.1 1341.7,912.7 1344.4,905.9 1346.1,939.1 1347.5,969.4 1350.5,930.3 1352.3,898.7 1354.9,889.5 1357.6,909.2 1360.2,888.7 1362,930.3 1363.4,970.2 1366.4,930.3 1369,904 1374.3,889.5 1381.3,898.7 1386.6,916.3 1391.8,933.8 1395.4,947.9 1396.2,983.1 1398,994 1399.8,965.5 1402,930.3 1404.2,909.2 1406.8,900.4 1410.8,889.5 1416.5,900.4 1420.9,914.5 1422.6,947.9 1423.1,975.9 1425.3,947.9 1428.8,918 1431.4,965.5 1433.2,1010.2 1434.9,965.5 1436.2,930.3 1437.6,911 1441.1,901 1443.2,930.3 1444.9,961.1 1449,930.3 1450.7,909.2 1454.8,894.8 1460.4,905.7 1462.2,930.3 1463.6,958.5 1467.5,974.3 1469.2,981.1 1471,965.5 1472.4,939.1 1474.5,921.5 1478,915.9 1483.3,923.3 1485.4,947.9 1486.4,983.1 1487.3,998 1489.4,983.1 1492.1,962 1493.8,951.4 1499.1,945.8 1501.7,972 1505.3,939.1 1507.9,921.5 1513.2,913.8 1514.9,947.9 1519.3,983.1 1521.6,1017.4 1522.8,983.1 1523.7,939.1 1526.9,916.8 1529,947.9 1530.7,976.4 1533.4,947.9 1537.8,927 1541.3,978.2 1543.9,939.1 1545.7,904 1548.3,893.1 1552.7,905.7 1558.5,893.6 1560.3,930.3 1561.5,965.5 1563.3,989.2 1565.9,956.7 1568,921.5 1571.2,911 1577.3,901 1579.1,930.3 1581.4,953 1584.4,930.3 1586.1,904 1591.4,891.8 1597.6,905.7 1600.2,930.3 1601.4,958.5 1602.5,975.2 1604.6,958.5 1610.7,947.9 1612,921.5 1616.9,901.8 1622.2,906.6 1626.6,918 1628.3,956.7 1629.6,983.1 1631.8,956.7 1634.5,921.5 1636.6,895.2 1641.5,879 1646.8,893.4 1650.3,914.5 1654,933.8 1657.6,932.1 1659.4,956.7 1661.2,974.6 1664.7,958.5 1667.3,940 1669.9,983.1 1672.6,1030.9 1674.3,983.1 1675.2,930.3 1677.9,898.3 1680.5,930.3 1683.1,957.9 1685.8,930.3 1687.5,895.2 1690.7,882 1698.1,895.2 1702.5,911 1704.2,930.3 1704.8,983.1 1706,1012.1 1708.3,983.1 1710.4,950.5 1713,983.1 1714.8,1005.1 1715.7,965.5 1716.5,928.2 1722.7,944.7 1725.3,912.7 1727.1,886.4 1730.6,873.2 1734.1,895.2 1735,930.3 1735.9,957.1 1738.5,930.3 1741.2,902.2 1746.4,909.2 1750.8,921.5 1752.6,947.9 1753.5,983.1 1755.2,1011 1757.9,965.5 1761,939.6 1764,978.2 1767.5,939.1 1769.3,904 1772.3,892.2 1774.6,930.3 1777.2,955.8 1779.8,930.3 1785.1,906.2 1793,912.7 1797.4,926.8 1801.8,939.1 1806.2,949.7 1808,983.1 1810.6,1003.1 1814.1,965.5 1815,930.3 1817.6,919.4 1822.9,953 1824.7,930.3 1825.5,904 1826.8,891.8 1833.5,896.6 1837,912.7 1837.3,965.5 1837.9,983.4 1840.5,947.9 1843.1,921.5 1846.6,912.7" fill="none" stroke="#00f" stroke-width="11.6" stroke-linejoin="round" stroke-linecap="round"/>
</g>
<g fill="#000" shape-rendering="crispEdges">
<rect x="309" y="21" width="10" height="1217"/>
<rect x="1844" y="21" width="10" height="1217"/>
<rect x="309" y="21" width="1545" height="10"/>
<rect x="309" y="1228" width="1545" height="10"/>
<rect x="285" y="1228.0" width="24" height="10"/>
<rect x="299" y="1135.1" width="10" height="10"/>
<rect x="285" y="1042.2" width="24" height="10"/>
<rect x="299" y="949.3" width="10" height="10"/>
<rect x="285" y="856.4" width="24" height="10"/>
<rect x="299" y="763.5" width="10" height="10"/>
<rect x="285" y="670.6" width="24" height="10"/>
<rect x="299" y="577.7" width="10" height="10"/>
<rect x="285" y="484.8" width="24" height="10"/>
<rect x="299" y="391.9" width="10" height="10"/>
<rect x="285" y="299.0" width="24" height="10"/>
<rect x="299" y="206.1" width="10" height="10"/>
<rect x="285" y="113.2" width="24" height="10"/>
<rect x="299" y="20.3" width="10" height="10"/>
<rect x="564.8" y="1218" width="10" height="10"/>
<rect x="820.7" y="1204" width="10" height="24"/>
<rect x="1076.5" y="1218" width="10" height="10"/>
<rect x="1332.3" y="1204" width="10" height="24"/>
<rect x="1588.2" y="1218" width="10" height="10"/>
</g>
<text x="264.2" y="1259.7" text-anchor="end">0.0</text>
<text x="264.2" y="1073.9" text-anchor="end">0.1</text>
<text x="264.2" y="888.1" text-anchor="end">0.2</text>
<text x="264.2" y="702.3" text-anchor="end">0.3</text>
<text x="264.2" y="516.5" text-anchor="end">0.4</text>
<text x="264.2" y="330.7" text-anchor="end">0.5</text>
<text x="264.2" y="144.9" text-anchor="end">0.6</text>
<text x="314.0" y="1335" text-anchor="middle">0</text>
<text x="825.7" y="1335" text-anchor="middle">30</text>
<text x="1337.3" y="1335" text-anchor="middle">60</text>
<text x="1849.0" y="1335" text-anchor="middle">90</text>
<text x="1082.5" y="1393" text-anchor="middle">Time (min)</text>
<text transform="translate(91.5,699) rotate(-90)" text-anchor="middle" style="letter-spacing:0.2px">Friction coefficient</text>
<line x1="1054.5" y1="82.5" x2="1258.5" y2="82.5" stroke="#000" stroke-width="11.5" stroke-linecap="round" shape-rendering="crispEdges"/>
<text x="1281.5" y="113.7">P0</text>
<line x1="1448.5" y1="82.5" x2="1652.5" y2="82.5" stroke="#f00" stroke-width="11.5" stroke-linecap="round" shape-rendering="crispEdges"/>
<text x="1675.5" y="113.7">P1</text>
<line x1="1054.5" y1="195.6" x2="1258.5" y2="195.6" stroke="#00f" stroke-width="11.5" stroke-linecap="round" shape-rendering="crispEdges"/>
<text x="1281.5" y="226.7">P2</text>
<line x1="1448.5" y1="195.6" x2="1652.5" y2="195.6" stroke="#f0f" stroke-width="11.5" stroke-linecap="round" shape-rendering="crispEdges"/>
<text x="1675.5" y="226.7">P3</text>
</svg></body></html>
